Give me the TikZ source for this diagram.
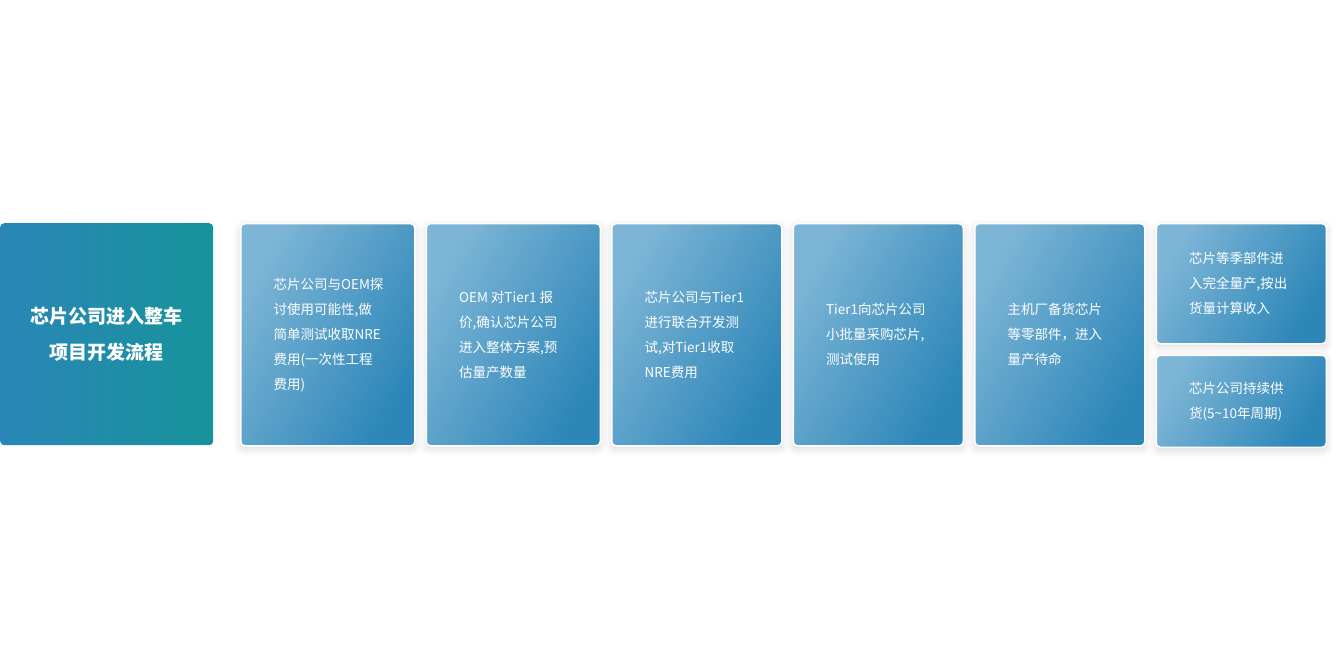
\documentclass[tikz,border=0pt]{standalone}
\usepackage{fontspec}
\setmainfont{Noto Sans CJK SC}
\usetikzlibrary{positioning,shadows.blur}
\definecolor{boxlight}{HTML}{7DB5D6}
\definecolor{boxdark}{HTML}{2C86B8}
\definecolor{headl}{HTML}{2A86B8}
\definecolor{headr}{HTML}{16939A}
\tikzset{
  stage/.style={draw=white, line width=1.5pt, rounded corners=4pt,
    left color=boxlight, right color=boxdark, shading angle=60,
    minimum height=222pt, text=white, inner sep=0pt,
    blur shadow={shadow xshift=0pt, shadow yshift=-3pt, shadow blur radius=8pt,
      shadow opacity=15, shadow blur steps=8},
    anchor=north west},
  label/.style={text=white, align=left, anchor=west,
    font=\fontsize{13.5}{25}\selectfont},
}
\begin{document}
\begin{tikzpicture}[x=1pt,y=-1pt]
  \useasboundingbox (0,0) rectangle (1340,660);
  % title block
  \node[rounded corners=4pt, left color=headl, right color=headr,
    minimum width=213pt, minimum height=222pt, anchor=north west,
    text=white, align=center, font=\fontsize{19}{36}\selectfont\bfseries]
    (head) at (0,223) {芯片公司进入整车\\项目开发流程};
  % stages
  \node[stage, minimum width=174pt] (s1) at (240,223) {};
  \node[stage, minimum width=174pt, right=10pt of s1.north east, anchor=north west] (s2) {};
  \node[stage, minimum width=170pt, right=10pt of s2.north east, anchor=north west] (s3) {};
  \node[stage, minimum width=170pt, right=10pt of s3.north east, anchor=north west] (s4) {};
  \node[stage, minimum width=170pt, right=10pt of s4.north east, anchor=north west] (s5) {};
  \node[stage, minimum width=170pt, minimum height=120pt, right=10pt of s5.north east, anchor=north west] (s6) {};
  \node[stage, minimum width=170pt, minimum height=92pt, below=10pt of s6.south west, anchor=north west] (s7) {};
  % texts
  \node[label] at ([xshift=30pt]s1.west) {芯片公司与OEM探\\讨使用可能性,做\\简单测试收取NRE\\费用(一次性工程\\费用)};
  \node[label] at ([xshift=30pt]s2.west) {OEM 对Tier1 报\\价,确认芯片公司\\进入整体方案,预\\估量产数量};
  \node[label] at ([xshift=30pt]s3.west) {芯片公司与Tier1\\进行联合开发测\\试,对Tier1收取\\NRE费用};
  \node[label] at ([xshift=30pt]s4.west) {Tier1向芯片公司\\小批量采购芯片,\\测试使用};
  \node[label] at ([xshift=30pt]s5.west) {主机厂备货芯片\\等零部件，进入\\量产待命};
  \node[label] at ([xshift=30pt]s6.west) {芯片等季部件进\\入完全量产,按出\\货量计算收入};
  \node[label] at ([xshift=30pt]s7.west) {芯片公司持续供\\货(5\textasciitilde10年周期)};
\end{tikzpicture}
\end{document}
